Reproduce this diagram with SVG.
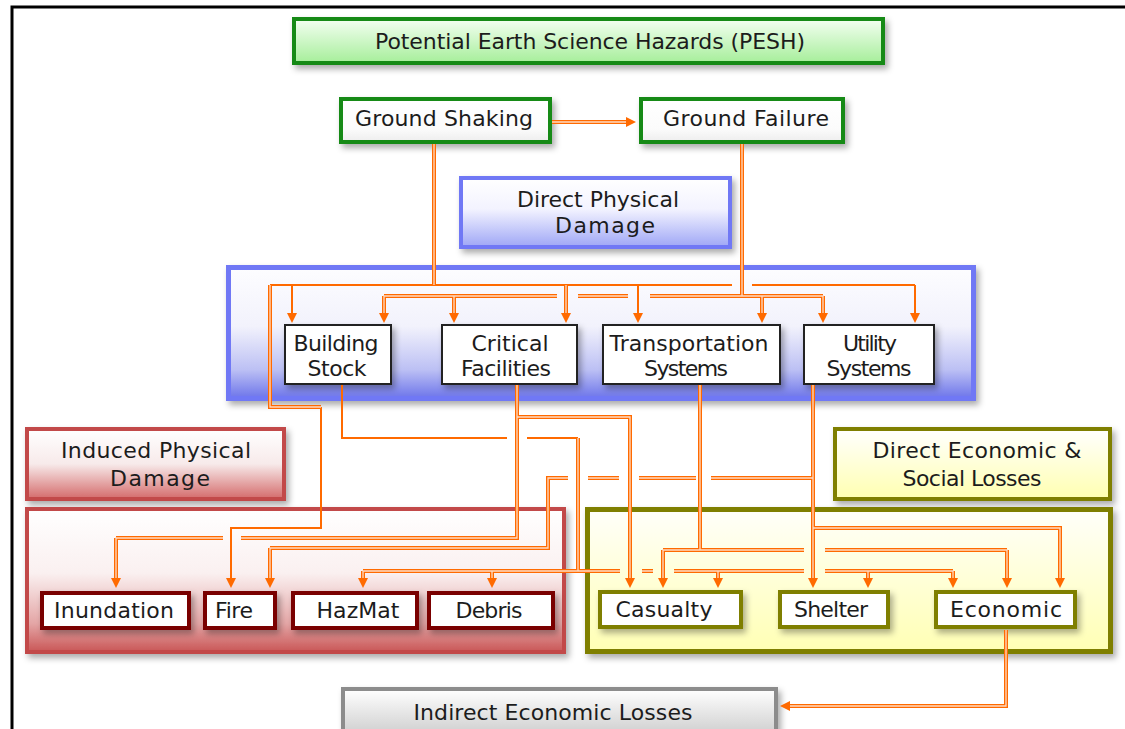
<svg xmlns="http://www.w3.org/2000/svg" width="1125" height="729" viewBox="0 0 1125 729">
<defs>
<linearGradient id="gPesh" x1="0" y1="0" x2="0" y2="1"><stop offset="0" stop-color="#f4fff2"/><stop offset="1" stop-color="#a6ee9a"/></linearGradient>
<linearGradient id="gWhite" x1="0" y1="0" x2="0" y2="1"><stop offset="0" stop-color="#ffffff"/><stop offset="0.7" stop-color="#fbfbfb"/><stop offset="1" stop-color="#ededed"/></linearGradient>
<linearGradient id="gBlueLbl" x1="0" y1="0" x2="0" y2="1"><stop offset="0" stop-color="#ffffff"/><stop offset="0.45" stop-color="#f3f3ff"/><stop offset="1" stop-color="#9ea6f6"/></linearGradient>
<linearGradient id="gBlueCont" x1="0" y1="0" x2="0" y2="1"><stop offset="0" stop-color="#fdfdff"/><stop offset="0.45" stop-color="#f2f2fc"/><stop offset="0.78" stop-color="#bcc0f4"/><stop offset="1" stop-color="#6c74ea"/></linearGradient>
<linearGradient id="gRedLbl" x1="0" y1="0" x2="0" y2="1"><stop offset="0" stop-color="#ffffff"/><stop offset="0.5" stop-color="#f7eaea"/><stop offset="1" stop-color="#d46a6a"/></linearGradient>
<linearGradient id="gRedCont" x1="0" y1="0" x2="0" y2="1"><stop offset="0" stop-color="#ffffff"/><stop offset="0.45" stop-color="#faf0f0"/><stop offset="0.8" stop-color="#e4a6a6"/><stop offset="1" stop-color="#c95656"/></linearGradient>
<linearGradient id="gYelLbl" x1="0" y1="0" x2="0" y2="1"><stop offset="0" stop-color="#ffffff"/><stop offset="1" stop-color="#ffffb0"/></linearGradient>
<linearGradient id="gYelCont" x1="0" y1="0" x2="0" y2="1"><stop offset="0" stop-color="#fffffa"/><stop offset="1" stop-color="#ffffb4"/></linearGradient>
<linearGradient id="gGray" x1="0" y1="0" x2="0" y2="1"><stop offset="0" stop-color="#ffffff"/><stop offset="1" stop-color="#bdbdbd"/></linearGradient>
<filter id="sh" x="-20%" y="-30%" width="150%" height="190%"><feDropShadow dx="3" dy="4" stdDeviation="3" flood-color="#000" flood-opacity="0.33"/></filter>
<marker id="ah" viewBox="0 0 10 10" refX="0" refY="5" markerWidth="10" markerHeight="10" markerUnits="userSpaceOnUse" orient="auto"><path d="M0,0 L10,5 L0,10 z" fill="#ff6a00"/></marker>
</defs>
<style>
.t{font-family:"DejaVu Sans","Liberation Sans",sans-serif;font-size:22px;fill:#1c1c1c;text-anchor:middle}
.green{stroke:#178a17;stroke-width:4}
.blue{stroke:#6f78f5;stroke-width:4}
.red{stroke:#c24a4a;stroke-width:4}
.dred{stroke:#7a0000;stroke-width:4;fill:#ffffff}
.olive{stroke:#7f7f00;stroke-width:4}
.oliveN{stroke:#7f7f00;stroke-width:4;fill:#ffffff}
.blk{stroke:#222222;stroke-width:2;fill:#ffffff}
.o{fill:none;stroke:#ff6a00;stroke-width:4}
.i{fill:none;stroke:#ffdcc4;stroke-width:1.3}
.s{fill:none;stroke:#ff6a00;stroke-width:2}
.a{marker-end:url(#ah)}
</style>
<rect width="1125" height="729" fill="#ffffff"/>
<path d="M12,729 V7 H1125" fill="none" stroke="#000" stroke-width="3"/>

<g id="pesh"><rect x="294" y="19" width="589" height="44" fill="url(#gPesh)" class="green" filter="url(#sh)"/><text class="t" x="590" y="49" textLength="430">Potential Earth Science Hazards (PESH)</text></g>
<g id="ground-shaking"><rect x="341" y="99" width="209" height="43" fill="url(#gWhite)" class="green" filter="url(#sh)"/><text class="t" x="444" y="126" textLength="178">Ground Shaking</text></g>
<g id="ground-failure"><rect x="641" y="99" width="202" height="43" fill="url(#gWhite)" class="green" filter="url(#sh)"/><text class="t" x="746" y="126" textLength="166">Ground Failure</text></g>

<g id="dpd-label"><rect x="461" y="178" width="269" height="69" fill="url(#gBlueLbl)" class="blue" filter="url(#sh)"/><text class="t" x="598" y="207" textLength="162">Direct Physical</text><text class="t" x="605" y="233" textLength="100">Damage</text></g>
<g id="dpd-container"><rect x="228.5" y="267.5" width="745" height="131" fill="url(#gBlueCont)" stroke="#6f78f5" stroke-width="5" filter="url(#sh)"/></g>
<g id="building-stock"><rect x="285" y="325" width="106" height="59" class="blk" filter="url(#sh)"/><text class="t" x="336" y="351" textLength="85">Building</text><text class="t" x="337" y="376" textLength="59">Stock</text></g>
<g id="critical-facilities"><rect x="442" y="325" width="135" height="59" class="blk" filter="url(#sh)"/><text class="t" x="510" y="351" textLength="77">Critical</text><text class="t" x="506" y="376" textLength="90">Facilities</text></g>
<g id="transportation-systems"><rect x="603" y="325" width="177" height="59" class="blk" filter="url(#sh)"/><text class="t" x="689" y="351" textLength="159">Transportation</text><text class="t" x="686" y="376" textLength="84">Systems</text></g>
<g id="utility-systems"><rect x="804" y="325" width="130" height="59" class="blk" filter="url(#sh)"/><text class="t" x="870" y="351" textLength="54">Utility</text><text class="t" x="869" y="376" textLength="85">Systems</text></g>

<g id="ipd-label"><rect x="27" y="429" width="257" height="70" fill="url(#gRedLbl)" class="red" filter="url(#sh)"/><text class="t" x="156" y="458" textLength="190">Induced Physical</text><text class="t" x="160" y="486" textLength="100">Damage</text></g>
<g id="ipd-container"><rect x="27" y="509" width="537" height="143" fill="url(#gRedCont)" class="red" filter="url(#sh)"/></g>
<g id="inundation"><rect x="42" y="593" width="147" height="35" class="dred" filter="url(#sh)"/><text class="t" x="114" y="618" textLength="120">Inundation</text></g>
<g id="fire"><rect x="205" y="593" width="70" height="35" class="dred" filter="url(#sh)"/><text class="t" x="234" y="618" textLength="38">Fire</text></g>
<g id="hazmat"><rect x="293" y="593" width="124" height="35" class="dred" filter="url(#sh)"/><text class="t" x="358" y="618" textLength="83">HazMat</text></g>
<g id="debris"><rect x="429" y="593" width="124" height="35" class="dred" filter="url(#sh)"/><text class="t" x="489" y="618" textLength="67">Debris</text></g>

<g id="desl-label"><rect x="835" y="429" width="275" height="70" fill="url(#gYelLbl)" class="olive" filter="url(#sh)"/><text class="t" x="977" y="458" textLength="209">Direct Economic &amp;</text><text class="t" x="972" y="486" textLength="139">Social Losses</text></g>
<g id="desl-container"><rect x="587.5" y="509.5" width="523" height="142" fill="url(#gYelCont)" stroke="#7f7f00" stroke-width="5" filter="url(#sh)"/></g>
<g id="casualty"><rect x="600" y="592" width="141" height="35" class="oliveN" filter="url(#sh)"/><text class="t" x="664" y="617" textLength="97">Casualty</text></g>
<g id="shelter"><rect x="780" y="592" width="108" height="35" class="oliveN" filter="url(#sh)"/><text class="t" x="831" y="617" textLength="74">Shelter</text></g>
<g id="economic"><rect x="936" y="592" width="139" height="35" class="oliveN" filter="url(#sh)"/><text class="t" x="1006" y="617" textLength="112">Economic</text></g>

<g id="indirect-economic-losses"><rect x="343" y="689" width="433" height="62" fill="url(#gGray)" stroke="#8c8c8c" stroke-width="4" filter="url(#sh)"/><text class="t" x="553" y="720" textLength="279">Indirect Economic Losses</text></g>

<g id="connectors">
<path class="s" d="M270,285 H732 M752,285 H915"/>
<path class="s a" d="M915,285 V313"/>
<path class="s a" d="M292,285 V313"/>
<path class="s a" d="M638,285 V313"/>
<path class="s a" d="M321,407 V528 H231 V578"/>
<path class="s" d="M342,385 V438 H507 M527,438 H578"/>
<path class="o a" d="M552,122 H626"/>
<path class="o" d="M434,144 V285"/>
<path class="o" d="M270,285 V407 H321"/>
<path class="o a" d="M566,285 V313"/>
<path class="o" d="M742,144 V296"/>
<path class="o" d="M384,296 H557 M578,296 H628 M650,296 H823"/>
<path class="o a" d="M384,296 V313"/>
<path class="o a" d="M454,296 V313"/>
<path class="o a" d="M762,296 V313"/>
<path class="o a" d="M823,296 V313"/>
<path class="o" d="M517,385 V538 H241 M223,538 H116"/>
<path class="o a" d="M116,538 V578"/>
<path class="o a" d="M517,417 H630 V578"/>
<path class="o" d="M700,385 V550 M663,550 H804 M825,550 H1007"/>
<path class="o a" d="M663,550 V578"/>
<path class="o a" d="M1007,550 V578"/>
<path class="o a" d="M813,385 V578"/>
<path class="o" d="M813,478 H711 M696,478 H639 M619,478 H588 M568,478 H548 V548 H270"/>
<path class="o a" d="M270,548 V578"/>
<path class="o a" d="M813,528 H1060 V578"/>
<path class="o" d="M578,438 V571 M363,571 H620 M642,571 H653 M674,571 H804 M825,571 H953"/>
<path class="o a" d="M363,571 V578"/>
<path class="o a" d="M492,571 V578"/>
<path class="o a" d="M718,571 V578"/>
<path class="o a" d="M868,571 V578"/>
<path class="o a" d="M953,571 V578"/>
<path class="o a" d="M1006,630 V706 H790"/>
<path class="i" d="M552,122 H626"/>
<path class="i" d="M434,144 V285"/>
<path class="i" d="M270,285 V407 H321"/>
<path class="i" d="M566,285 V313"/>
<path class="i" d="M742,144 V296"/>
<path class="i" d="M384,313 V296 H557 M578,296 H628 M650,296 H823 V313"/>
<path class="i" d="M454,296 V313 M762,296 V313"/>
<path class="i" d="M517,385 V538 H241 M223,538 H116 V578"/>
<path class="i" d="M517,417 H630 V578"/>
<path class="i" d="M700,385 V550 M663,578 V550 H804 M825,550 H1007 V578"/>
<path class="i" d="M813,385 V578"/>
<path class="i" d="M813,478 H711 M696,478 H639 M619,478 H588 M568,478 H548 V548 H270 V578"/>
<path class="i" d="M813,528 H1060 V578"/>
<path class="i" d="M578,438 V571 M363,578 V571 H620 M642,571 H653 M674,571 H804 M825,571 H953 V578"/>
<path class="i" d="M492,571 V578 M718,571 V578 M868,571 V578"/>
<path class="i" d="M1006,630 V706 H790"/>
</g>
</svg>
